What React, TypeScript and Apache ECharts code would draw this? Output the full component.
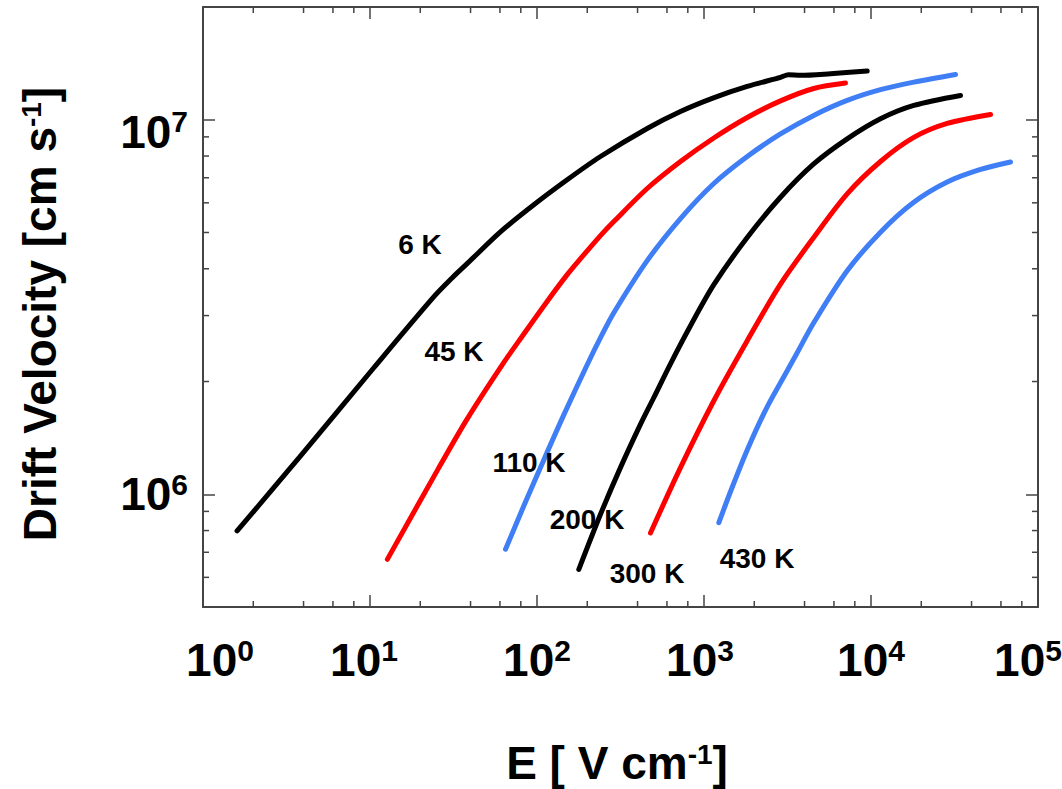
import React, { useEffect, useRef } from 'react';
import * as echarts from 'echarts';

// ---- axis ranges ----
const X_MIN = 1;
const X_MAX = 1e5;
const Y_MIN = 5e5;
const Y_MAX = 2e7;

// ---- minor tick values ----
const MINOR_X = [2, 4, 6, 8, 20, 40, 60, 80, 200, 400, 600, 800, 2000, 4000, 6000, 8000, 20000, 40000, 60000, 80000];
const MINOR_Y = [6e5, 7e5, 8e5, 9e5, 2e6, 3e6, 4e6, 5e6, 6e6, 7e6, 8e6, 9e6];

// ---- series data: E [V/cm] and drift velocity [cm/s] ----
const T6_E = [1.6, 3.84, 10.54, 24.0, 31.0, 38.4, 60.4, 95.3, 152.3, 240, 457, 723, 1140, 1815, 2871, 3206, 3783, 5720, 9490];
const T6_V = [7.98e5, 1.266e6, 2.177e6, 3.36e6, 3.78e6, 4.14e6, 5.02e6, 5.92e6, 6.924e6, 7.977e6, 9.478e6, 1.052e7, 1.144e7, 1.227e7, 1.298e7, 1.318e7, 1.314e7, 1.327e7, 1.349e7];

const T45_E = [12.7, 25.8, 38.2, 61.9, 83.4, 112.4, 151.6, 182.2, 240, 288.4, 457, 723, 1145, 1815, 2871, 4540, 7036];
const T45_V = [6.7e5, 1.176e6, 1.59e6, 2.217e6, 2.679e6, 3.228e6, 3.858e6, 4.257e6, 4.905e6, 5.347e6, 6.552e6, 7.735e6, 8.94e6, 1.014e7, 1.123e7, 1.212e7, 1.253e7];

const T110_E = [64.8, 85.3, 109.8, 144.7, 199.8, 240, 288.4, 457, 723, 1145, 1815, 2871, 4540, 7200, 11400, 18040, 32070];
const T110_V = [7.13e5, 9.54e5, 1.235e6, 1.629e6, 2.217e6, 2.618e6, 3.053e6, 4.205e6, 5.446e6, 6.756e6, 7.977e6, 9.164e6, 1.027e7, 1.126e7, 1.203e7, 1.26e7, 1.321e7];

const T200_E = [178, 240, 316, 417, 500, 630, 830, 1145, 1815, 2871, 4540, 7200, 11400, 18040, 34360];
const T200_V = [6.3e5, 8.84e5, 1.178e6, 1.539e6, 1.81e6, 2.23e6, 2.818e6, 3.627e6, 4.85e6, 6.21e6, 7.62e6, 8.89e6, 1.006e7, 1.092e7, 1.161e7];

const T300_E = [478, 723, 1145, 1815, 2871, 4540, 7200, 11400, 18040, 28580, 52000];
const T300_V = [7.88e5, 1.178e6, 1.777e6, 2.57e6, 3.64e6, 4.85e6, 6.34e6, 7.735e6, 8.969e6, 9.774e6, 1.033e7];

const T430_E = [1227, 1442, 1815, 2390, 3150, 3614, 4540, 7200, 11400, 18040, 28580, 45290, 68450];
const T430_V = [8.4e5, 1.017e6, 1.313e6, 1.712e6, 2.137e6, 2.387e6, 2.87e6, 3.95e6, 5.01e6, 6.02e6, 6.818e6, 7.365e6, 7.712e6];

const SERIES_NAMES = ['6 K', '45 K', '110 K', '200 K', '300 K', '430 K'];
const SERIES_E = [T6_E, T45_E, T110_E, T200_E, T300_E, T430_E];
const SERIES_V = [T6_V, T45_V, T110_V, T200_V, T300_V, T430_V];

// ---- styles / layout ----
const FONT = "'Liberation Sans', Arial, Helvetica, sans-serif";
const AXIS_COLOR = '#444444';
const COLORS = ['#000000', '#ff0000', '#3f7ef5', '#000000', '#ff0000', '#3f7ef5'];
const LABEL_POS: [number, number][] = [
  [420, 244],
  [454, 351],
  [529, 462],
  [587, 519],
  [647, 573],
  [757, 558],
];
// horizontal nudge of each x tick label (px), indexed by exponent
const X_LABEL_SHIFT = [17, -6, 0, -4, 0, -10];
// downward nudge of y tick labels (px), keyed by exponent
const Y_LABEL_DROP: Record<number, number> = { 7: 12 };

const exponentOf = (v: number): number | null => {
  const e = Math.log10(v);
  const r = Math.round(e);
  return Math.abs(e - r) > 1e-6 ? null : r;
};

const baseRich: Record<string, any> = {
  b: { fontSize: 46, fontWeight: 'bold', fontFamily: FONT, color: '#000', lineHeight: 50 },
  s: { fontSize: 30, fontWeight: 'bold', fontFamily: FONT, color: '#000', lineHeight: 36, verticalAlign: 'top' },
  g: { fontSize: 8, lineHeight: 24, color: 'rgba(0,0,0,0)' },
};
const xRich: Record<string, any> = { ...baseRich };
X_LABEL_SHIFT.forEach((s, i) => {
  xRich['p' + i] = { width: Math.abs(s) * 2, fontSize: 8, lineHeight: 10, color: 'rgba(0,0,0,0)' };
});

const xFormatter = (v: number) => {
  const r = exponentOf(v);
  if (r === null) return '';
  const core = `{b|10}{s|${r}}`;
  const s = X_LABEL_SHIFT[r] || 0;
  if (s > 0) return `{p${r}| }` + core;
  if (s < 0) return core + `{p${r}| }`;
  return core;
};

const yFormatter = (v: number) => {
  const r = exponentOf(v);
  if (r === null) return '';
  const core = `{b|10}{s|${r}}`;
  return Y_LABEL_DROP[r] ? `{g| }\n` + core : core;
};

const richTitle = {
  t: { fontSize: 46, fontWeight: 'bold', fontFamily: FONT, fill: '#000', lineHeight: 46 },
  s: { fontSize: 28, fontWeight: 'bold', fontFamily: FONT, fill: '#000', lineHeight: 30, verticalAlign: 'top' },
};

function makeXAxis(position: 'bottom' | 'top') {
  return {
    type: 'log',
    logBase: 10,
    min: X_MIN,
    max: X_MAX,
    position,
    axisLine: { show: true, onZero: false, lineStyle: { color: AXIS_COLOR, width: 2 } },
    axisTick: { show: true, inside: true, length: 12, lineStyle: { color: AXIS_COLOR, width: 1.5 } },
    axisLabel:
      position === 'bottom'
        ? { show: true, formatter: xFormatter, rich: xRich, margin: 28, hideOverlap: false }
        : { show: false },
    splitLine: { show: false },
    minorTick: { show: false },
  };
}

function makeYAxis(position: 'left' | 'right') {
  return {
    type: 'log',
    logBase: 10,
    min: Y_MIN,
    max: Y_MAX,
    position,
    axisLine: { show: true, onZero: false, lineStyle: { color: AXIS_COLOR, width: 2 } },
    axisTick: { show: true, inside: true, length: 12, lineStyle: { color: AXIS_COLOR, width: 1.5 } },
    axisLabel:
      position === 'left'
        ? { show: true, formatter: yFormatter, rich: baseRich, margin: 15, hideOverlap: false }
        : { show: false },
    splitLine: { show: false },
    minorTick: { show: false },
  };
}

export default function App() {
  const ref = useRef<HTMLDivElement>(null);

  useEffect(() => {
    document.body.style.margin = '0';
    if (!ref.current) return;
    const chart = echarts.init(ref.current, undefined, { renderer: 'svg' });

    const lineSeries = SERIES_NAMES.map((name, i) => ({
      name,
      type: 'line',
      xAxisIndex: 0,
      yAxisIndex: 0,
      data: SERIES_E[i].map((e, j) => [e, SERIES_V[i][j]]),
      showSymbol: false,
      symbol: 'none',
      smooth: 0.3,
      lineStyle: { color: COLORS[i], width: 5, cap: 'round', join: 'round' },
      z: 5,
    }));

    const tickStyle = { stroke: AXIS_COLOR, lineWidth: 1.5 };

    const minorXSeries = {
      type: 'custom',
      xAxisIndex: 0,
      yAxisIndex: 0,
      silent: true,
      z: 4,
      data: MINOR_X.map((x) => [x, Y_MIN]),
      renderItem: (_p: any, api: any) => {
        const x = api.value(0);
        const b = api.coord([x, Y_MIN]);
        const t = api.coord([x, Y_MAX]);
        return {
          type: 'group',
          children: [
            { type: 'line', shape: { x1: b[0], y1: b[1], x2: b[0], y2: b[1] - 6 }, style: tickStyle },
            { type: 'line', shape: { x1: t[0], y1: t[1], x2: t[0], y2: t[1] + 6 }, style: tickStyle },
          ],
        };
      },
    };

    const minorYSeries = {
      type: 'custom',
      xAxisIndex: 0,
      yAxisIndex: 0,
      silent: true,
      z: 4,
      data: MINOR_Y.map((y) => [X_MIN, y]),
      renderItem: (_p: any, api: any) => {
        const y = api.value(1);
        const l = api.coord([X_MIN, y]);
        const r = api.coord([X_MAX, y]);
        return {
          type: 'group',
          children: [
            { type: 'line', shape: { x1: l[0], y1: l[1], x2: l[0] + 6, y2: l[1] }, style: tickStyle },
            { type: 'line', shape: { x1: r[0], y1: r[1], x2: r[0] - 6, y2: r[1] }, style: tickStyle },
          ],
        };
      },
    };

    const labelGraphics = SERIES_NAMES.map((name, i) => ({
      type: 'text',
      x: LABEL_POS[i][0],
      y: LABEL_POS[i][1],
      z: 10,
      style: {
        text: name,
        fontSize: 28,
        fontWeight: 'bold',
        fontFamily: FONT,
        fill: '#000',
        align: 'center',
        verticalAlign: 'middle',
      },
    }));

    chart.setOption({
      animation: false,
      backgroundColor: '#ffffff',
      grid: {
        left: 203,
        top: 7,
        width: 835,
        height: 600,
        show: false,
        containLabel: false,
        outerBoundsMode: 'none',
      },
      xAxis: [makeXAxis('bottom'), makeXAxis('top')],
      yAxis: [makeYAxis('left'), makeYAxis('right')],
      series: [...lineSeries, minorXSeries, minorYSeries],
      graphic: [
        ...labelGraphics,
        {
          type: 'text',
          x: 617,
          y: 763,
          z: 10,
          style: {
            text: '{t|E [ V cm}{s|-1}{t|]}',
            rich: richTitle,
            align: 'center',
            verticalAlign: 'middle',
          },
        },
        {
          type: 'text',
          x: 40,
          y: 314,
          rotation: Math.PI / 2,
          z: 10,
          style: {
            text: '{t|Drift Velocity [cm s}{s|-1}{t|]}',
            rich: richTitle,
            align: 'center',
            verticalAlign: 'middle',
          },
        },
      ],
    });

    return () => {
      chart.dispose();
    };
  }, []);

  return <div ref={ref} style={{ width: 1062, height: 789 }} />;
}
